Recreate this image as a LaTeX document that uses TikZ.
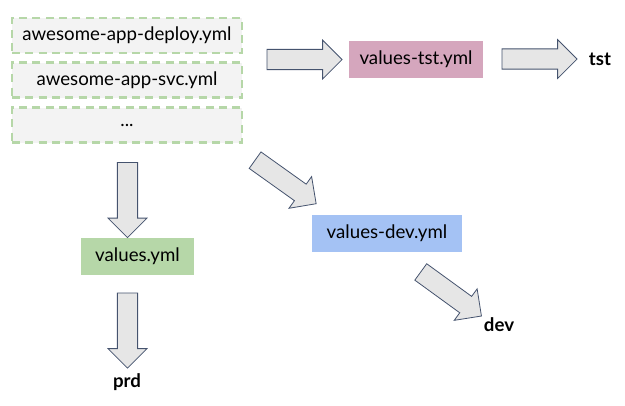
\documentclass[tikz,border=0pt]{standalone}
\usepackage{fontspec}
\setmainfont{Lato}
\usetikzlibrary{shapes.arrows}
\definecolor{filegray}{HTML}{F3F3F3}
\definecolor{filegreen}{HTML}{B6D7A8}
\definecolor{tstpink}{HTML}{D5A6BD}
\definecolor{devblue}{HTML}{A4C2F4}
\definecolor{arrowfill}{HTML}{E6E6E6}
\definecolor{arrowline}{HTML}{45536E}
\tikzset{
  filebox/.style={draw=filegreen, line width=1.9pt, dash pattern=on 6pt off 4pt,
    fill=filegray, minimum width=172.5pt, minimum height=26.25pt, inner sep=0pt,
    font=\fontsize{14}{16}\selectfont, text=black},
  valbox/.style={minimum height=27.75pt, inner sep=0pt,
    font=\fontsize{14}{16}\selectfont, text=black},
  envlabel/.style={font=\fontsize{14}{16}\selectfont\bfseries, text=black},
  bigarrow/.style={single arrow, draw=arrowline, line width=0.6pt, fill=arrowfill,
    minimum height=56.25pt, inner sep=7.3pt, single arrow head extend=7pt,
    single arrow tip angle=90, single arrow head indent=0pt}
}
\begin{document}
\begin{tikzpicture}[x=0.75pt,y=-0.75pt]
\useasboundingbox (0,0) rectangle (625,405);
% source files
\node[filebox] (deploy) at (127,35.5) {awesome-app-deploy.yml};
\node[filebox] (svc) at (127,80) {awesome-app-svc.yml};
\node[filebox] (more) at (127,125) {...};
% values files
\node[valbox, fill=tstpink, minimum width=100.5pt] (tst) at (416,59) {values-tst.yml};
\node[valbox, fill=devblue, minimum width=112.5pt] (dev) at (387,233.5) {values-dev.yml};
\node[valbox, fill=filegreen, minimum width=84.75pt] (vals) at (137.5,256) {values.yml};
% environment labels
\node[envlabel] (tstenv) at (600,59) {tst};
\node[envlabel] (devenv) at (499,325) {dev};
\node[envlabel] (prdenv) at (127,382) {prd};
% block arrows
\node[bigarrow] (a1) at (299.5,59.5) {};
\node[bigarrow] (a2) at (534.5,59) {};
\node[bigarrow, rotate=-35.5] (a3) at (281.5,179) {};
\node[bigarrow, rotate=-36] (a4) at (447,291) {};
\node[bigarrow, rotate=-90] (a5) at (127.5,195) {};
\node[bigarrow, rotate=-90] (a6) at (127.5,325.5) {};
\end{tikzpicture}
\end{document}
